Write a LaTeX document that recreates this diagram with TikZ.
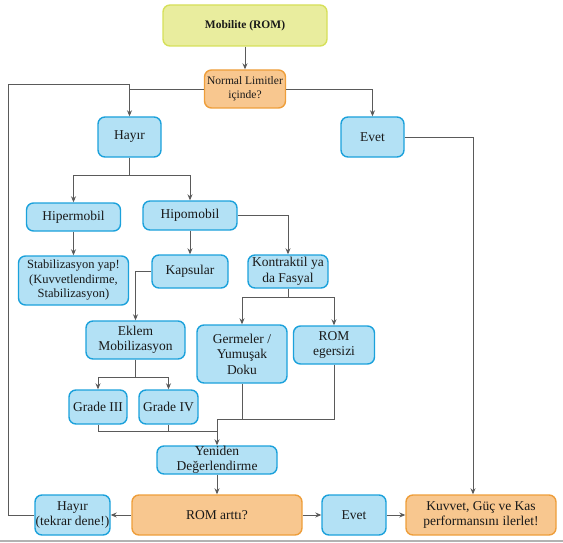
\documentclass[tikz,border=0pt]{standalone}
\usepackage{fontspec}
\setmainfont{Liberation Serif}
\newfontfamily\tnr{Liberation Serif}
\usetikzlibrary{arrows.meta}
\definecolor{bfill}{HTML}{B3E1F5}
\definecolor{bdraw}{HTML}{1BA1DB}
\definecolor{ofill}{HTML}{F8C78F}
\definecolor{odraw}{HTML}{EE9E3A}
\definecolor{yfill}{HTML}{E9ED9E}
\definecolor{ydraw}{HTML}{D6E05A}
\definecolor{lcol}{HTML}{5A5A5A}
\tikzset{
  box/.style={rectangle, rounded corners=7pt, line width=1.4pt, align=center, inner sep=0pt,
    font=\tnr\fontsize{13.5}{15.5}\selectfont, text=black!90},
  bluebox/.style={box, fill=bfill, draw=bdraw},
  orabox/.style={box, fill=ofill, draw=odraw},
  yelbox/.style={box, fill=yfill, draw=ydraw},
  wh/.style 2 args={minimum width=#1pt, minimum height=#2pt},
  conn/.style={draw=lcol, line width=0.9pt},
  arr/.style={conn, -{Stealth[length=6pt,width=5pt,fill=black!85]}}
}
\begin{document}
\begin{tikzpicture}[x=1pt,y=-1pt]
\useasboundingbox (0,0) rectangle (563,543);
\draw[gray!60, line width=1.6pt] (0,541) -- (563,541);
% nodes
\node[yelbox, wh={164}{41}, font=\tnr\fontsize{11.5}{13}\selectfont\bfseries] (mob) at (245,25.5) {Mobilite (ROM)};
\node[orabox, wh={81}{38}, font=\tnr\fontsize{11.5}{14}\selectfont] (norm) at (245,89) {Normal Limitler\\içinde?};
\node[bluebox, wh={63}{40}] (hay) at (129.5,137) {Hayır};
\node[bluebox, wh={63}{40}] (evet) at (372.5,137) {Evet};
\node[bluebox, wh={94}{28}] (hiper) at (73.5,217) {Hipermobil};
\node[bluebox, wh={94}{29}] (hipo) at (190,215.5) {Hipomobil};
\node[bluebox, wh={110}{49}, font=\tnr\fontsize{12.5}{14.5}\selectfont] (stab) at (73.5,280.5) {Stabilizasyon yap!\\(Kuvvetlendirme,\\Stabilizasyon)};
\node[bluebox, wh={76}{33}] (kaps) at (190,271.5) {Kapsular};
\node[bluebox, wh={80}{33}] (kont) at (288,271.5) {Kontraktil ya\\da Fasyal};
\node[bluebox, wh={99}{38}] (eklem) at (135.5,340) {Eklem\\Mobilizasyon};
\node[bluebox, wh={90}{58}] (germ) at (242,354) {Germeler /\\Yumuşak\\Doku};
\node[bluebox, wh={81}{38}] (romeg) at (334,345) {ROM\\egersizi};
\node[bluebox, wh={58}{34}] (g3) at (98,407) {Grade III};
\node[bluebox, wh={59}{34}] (g4) at (168.5,407) {Grade IV};
\node[bluebox, wh={120}{28}] (yen) at (217,460) {Yeniden\\Değerlendirme};
\node[orabox, wh={170}{40}] (rom) at (217,515) {ROM arttı?};
\node[bluebox, wh={75}{40}] (hay2) at (72.5,515) {Hayır\\(tekrar dene!)};
\node[bluebox, wh={64}{40}] (evet2) at (354,515) {Evet};
\node[orabox, wh={150}{40}] (kuv) at (481,515) {Kuvvet, Güç ve Kas\\performansını ilerlet!};
% helper coordinates
\coordinate (lt) at (8,84);
\coordinate (j431) at (217,431);
\coordinate (j419) at (217,419);
% connectors
\draw[arr] (mob.south) -- (norm.north);
\draw[conn] (norm.west) -- (norm.west -| hay.north);
\draw[conn] (hay2.west) -| (lt) -- (lt -| hay.north);
\draw[arr] (lt -| hay.north) -- (hay.north);
\draw[arr] (norm.east) -| (evet.north);
\draw[arr] (hay.south) -- ++(0,18) -| (hiper.north);
\draw[arr] (hay.south) -- ++(0,18) -| (hipo.north);
\draw[arr] (hiper.south) -- (stab.north);
\draw[arr] (hipo.south) -- (kaps.north);
\draw[arr] (hipo.east) -| (kont.north);
\draw[arr] (kont.south) -- ++(0,9) -| (germ.north);
\draw[arr] (kont.south) -- ++(0,9) -| (romeg.north);
\draw[arr] (kaps.west) -| (eklem.north);
\draw[arr] (eklem.south) -- ++(0,18) -| (g3.north);
\draw[arr] (eklem.south) -- ++(0,18) -| (g4.north);
\draw[conn] (g3.south) |- (j431);
\draw[conn] (g4.south) -- (g4.south |- j431);
\draw[conn] (germ.south) |- (j419);
\draw[conn] (romeg.south) |- (j419);
\draw[arr] (j419) -- (yen.north);
\draw[arr] (yen.south) -- (rom.north);
\draw[arr] (rom.west) -- (hay2.east);
\draw[arr] (rom.east) -- (evet2.west);
\draw[arr] (evet2.east) -- (kuv.west);
\draw[arr] (evet.east) -| ([xshift=-8pt]kuv.north);
\end{tikzpicture}
\end{document}
